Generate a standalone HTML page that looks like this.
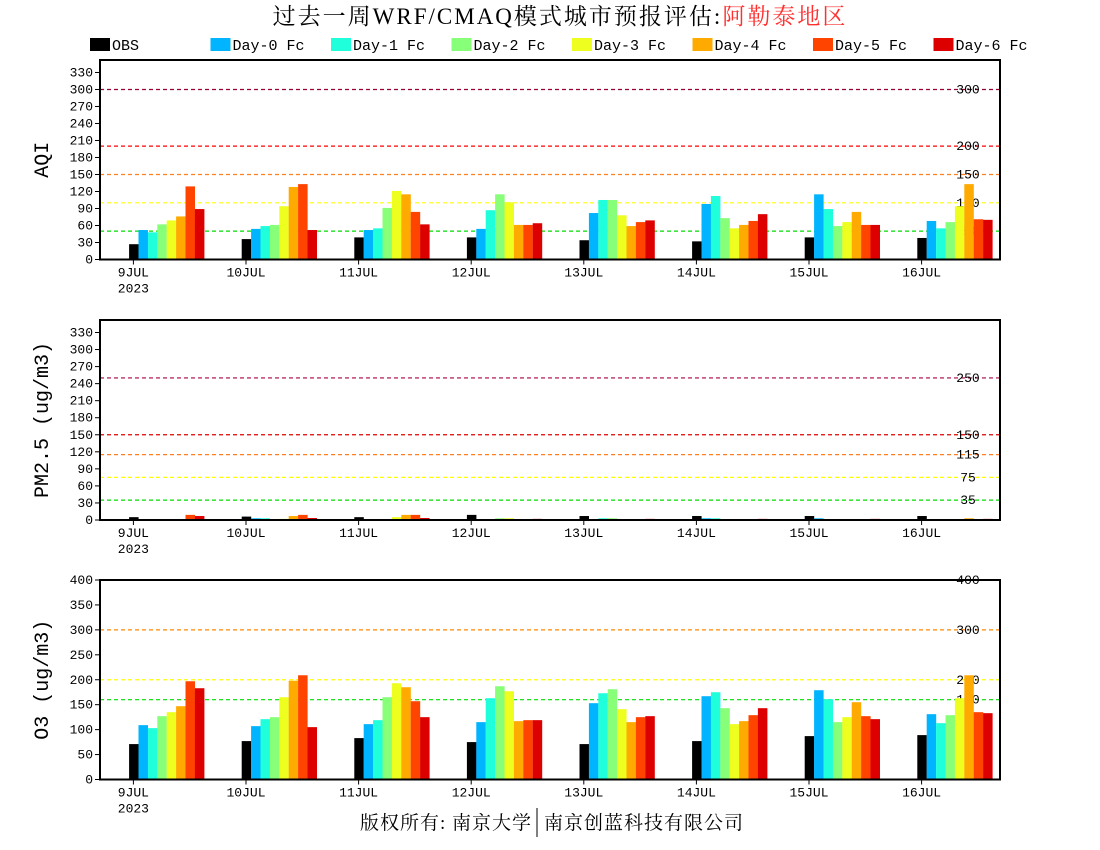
<!DOCTYPE html>
<html><head><meta charset="utf-8"><style>
body{margin:0;background:#fff;}
svg{display:block;}
text{font-family:"Liberation Mono","Noto Sans CJK SC",monospace;}
</style></head><body>
<svg id="c" width="1100" height="850" viewBox="0 0 1100 850" xmlns="http://www.w3.org/2000/svg">
<text x="560" y="24" text-anchor="middle" font-size="23" letter-spacing="2" style="font-family:'Liberation Serif','Noto Serif CJK SC',serif">过去一周WRF/CMAQ模式城市预报评估:<tspan fill="#ff3030">阿勒泰地区</tspan></text>
<text x="532" y="829" text-anchor="end" font-size="19" letter-spacing="1" style="font-family:'Liberation Serif','Noto Serif CJK SC',serif">版权所有: 南京大学</text>
<line x1="537" y1="808" x2="537" y2="837" stroke="#000" stroke-width="1"/>
<text x="544" y="829" font-size="19" letter-spacing="1" style="font-family:'Liberation Serif','Noto Serif CJK SC',serif">南京创蓝科技有限公司</text>
</svg>
<script>
const days = ['9JUL','10JUL','11JUL','12JUL','13JUL','14JUL','15JUL','16JUL'];
const seriesNames = ['OBS','Day-0 Fc','Day-1 Fc','Day-2 Fc','Day-3 Fc','Day-4 Fc','Day-5 Fc','Day-6 Fc'];
const seriesColors = ['#000000','#00b4ff','#20ffdc','#88ff78','#eeff20','#ffaa00','#ff4400','#dd0000'];
// per-day arrays: [OBS, D0..D6]
const aqiValues = [
 [27,52,48,62,69,76,129,89],
 [36,54,59,61,94,128,133,52],
 [39,52,55,91,121,115,84,62],
 [39,54,87,115,101,61,61,64],
 [34,82,105,105,78,59,66,69],
 [32,98,112,73,55,61,68,80],
 [39,115,89,59,66,84,61,61],
 [38,68,55,66,94,133,71,70]
];
const pm25Values = [
 [5,0,0,0,0,0,9,7],
 [6,3,3,0,2,7,9,3.5],
 [5,0,0,0,5,9,9,3.5],
 [9,0,0,3,3,0,0,2],
 [7,0,3,3,0,0,0,2],
 [7,3,3,0,0,0,0,2],
 [7,3,0,0,0,0,0,2],
 [7,0,0,0,0,3,0,2]
];
const o3Values = [
 [71,109,103,127,135,147,197,183],
 [77,107,121,125,165,198,209,105],
 [83,111,119,165,193,185,157,125],
 [75,115,163,187,177,117,119,119],
 [71,153,173,181,141,115,125,127],
 [77,167,175,143,111,117,129,143],
 [87,179,161,115,125,155,127,121],
 [89,131,113,129,163,209,135,133]
];
const aqiTicks = [0,30,60,90,120,150,180,210,240,270,300,330];
const pmTicks = [0,30,60,90,120,150,180,210,240,270,300,330];
const o3Ticks = [0,50,100,150,200,250,300,350,400];
const aqiLevels = [50,100,150,200,300];
const aqiLevelColors = ['#00dd00','#ffff00','#ff8020','#ff0000','#990033'];
const pmLevels = [35,75,115,150,250];
const pmLevelColors = ['#00dd00','#ffff00','#ff8020','#dd0000','#aa0044'];
const o3Levels = [160,200,300,400];
const o3LevelColors = ['#00dd00','#ffff00','#ff8800','#ff0000'];

const NS='http://www.w3.org/2000/svg';
const svg=document.getElementById('c');
function mk(tag,attrs,parent){const e=document.createElementNS(NS,tag);for(const k in attrs)e.setAttribute(k,attrs[k]);(parent||svg).appendChild(e);return e;}

seriesNames.forEach((n,i)=>{
  const x=90+i*120.5;
  const g=mk('g',{});
  
  
  mk('rect',{x:x,y:38,width:20,height:13,fill:seriesColors[i]},g);
  const t=mk('text',{x:x+22,y:50,'font-size':15},g);
  t.textContent=n;
});

const X0=100,X1=1000;
function xTick(i){return 133.4+i*112.6;}
function panel(cfg){
  const {top,bottom,max,ticks,levels,levelColors,values,label,name}=cfg;
  const y=v=>bottom-(v/max)*(bottom-top);
  const g=mk('g',{});
  
  
  levels.forEach((l,i)=>{
    const ln=mk('line',{x1:X0,x2:X1,y1:y(l),y2:y(l),stroke:levelColors[i],'stroke-width':1.2,'stroke-dasharray':'4,3'},g);
    
    
    const t=mk('text',{x:968,y:y(l)+4,'text-anchor':'middle','font-size':13},g);
    t.textContent=l;
  });
  values.forEach((arr,i)=>{
    arr.forEach((v,k)=>{
      if(v<=0)return;
      const bx=xTick(i)-4.3+k*9.4;
      const r=mk('rect',{x:bx,y:y(v),width:9.5,height:bottom-y(v),fill:seriesColors[k]},g);
      
      
    });
  });
  ticks.forEach(tk=>{
    mk('line',{x1:X0-5,x2:X0,y1:y(tk),y2:y(tk),stroke:'#000','stroke-width':1},g);
    const t=mk('text',{x:X0-7,y:y(tk)+4,'text-anchor':'end','font-size':13},g);
    t.textContent=tk;
  });
  days.forEach((d,i)=>{
    mk('line',{x1:xTick(i),x2:xTick(i),y1:bottom,y2:bottom+5,stroke:'#000','stroke-width':1},g);
    const t=mk('text',{x:xTick(i),y:bottom+17,'text-anchor':'middle','font-size':13},g);
    t.textContent=d;
  });
  const yr=mk('text',{x:xTick(0),y:bottom+33,'text-anchor':'middle','font-size':13},g);
  yr.textContent='2023';
  const fr=mk('rect',{x:X0,y:top,width:X1-X0,height:bottom-top,fill:'none',stroke:'#000','stroke-width':2},g);
  
  
  const cy=(top+bottom)/2;
  const yl=mk('text',{x:48,y:cy,'text-anchor':'middle','font-size':20,transform:'rotate(-90 48 '+cy+')',style:"font-family:'Liberation Mono',monospace"},g);
  
  
  yl.textContent=label;
}
panel({top:60,bottom:259.5,max:352,ticks:aqiTicks,levels:aqiLevels,levelColors:aqiLevelColors,values:aqiValues,label:'AQI',name:'aqi'});
panel({top:320,bottom:520,max:352,ticks:pmTicks,levels:pmLevels,levelColors:pmLevelColors,values:pm25Values,label:'PM2.5 (ug/m3)',name:'pm25'});
panel({top:580,bottom:779.5,max:400,ticks:o3Ticks,levels:o3Levels,levelColors:o3LevelColors,values:o3Values,label:'O3 (ug/m3)',name:'o3'});
</script>
</body></html>
